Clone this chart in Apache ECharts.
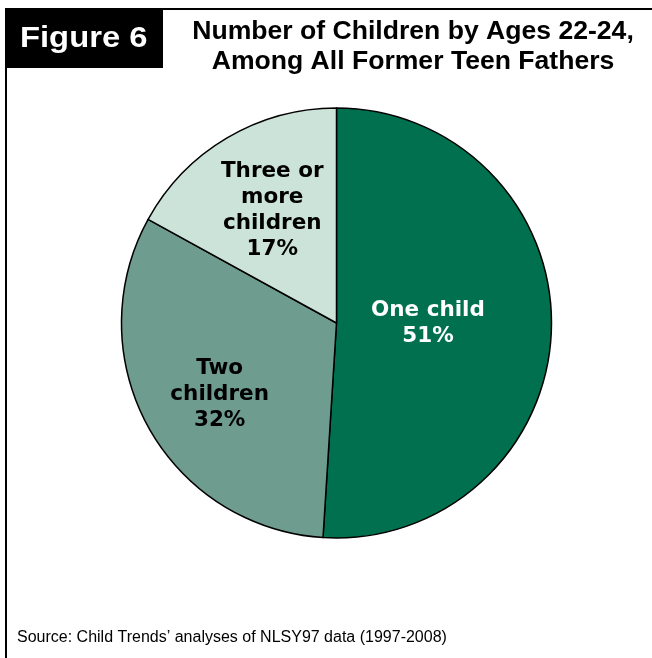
<!DOCTYPE html>
<html>
<head>
<meta charset="utf-8">
<script src="https://cdn.jsdelivr.net/npm/echarts@6/dist/echarts.min.js"></script>
<style>
html,body{margin:0;padding:0;background:#fff;}
#chart{width:652px;height:658px;}
</style>
</head>
<body>
<div id="chart"></div>
<script>
const categories = ["One child", "Two\nchildren", "Three or\nmore\nchildren"];
const values = [51, 32, 17];
const titleLines = ["Number of Children by Ages 22-24,", "Among All Former Teen Fathers"];
const figureLabel = "Figure 6";
const sourceText = "Source: Child Trends\u2019 analyses of NLSY97 data (1997-2008)";
const colors = ["#00704F", "#6E9C8E", "#CCE3D9"];
const labelColors = ["#ffffff", "#000000", "#000000"];
const labelOffsets = [[-19, -3], [-20, 18], [-8, -17]];

const chart = echarts.init(document.getElementById('chart'), null, {renderer: 'canvas'});
const data = categories.map((c, i) => ({
  name: c,
  value: values[i],
  itemStyle: {color: colors[i]},
  label: {color: labelColors[i], offset: labelOffsets[i]}
}));

const titleFont = 'bold 25px "Liberation Sans", Arial, sans-serif';

chart.setOption({
  animation: false,
  backgroundColor: '#ffffff',
  graphic: [
    {type: 'rect', shape: {x: 5, y: 8, width: 158, height: 60}, style: {fill: '#000'}},
    {type: 'line', shape: {x1: 5, y1: 9, x2: 652, y2: 9}, style: {stroke: '#000', lineWidth: 2}},
    {type: 'line', shape: {x1: 6, y1: 8, x2: 6, y2: 658}, style: {stroke: '#000', lineWidth: 2}},
    {type: 'text', x: 20, y: 24, scaleX: 1.13, style: {text: figureLabel, fill: '#fff', font: 'bold 29px "Liberation Sans", Arial, sans-serif'}},
    {type: 'text', x: 413, y: 20, scaleX: 1.063, style: {text: titleLines[0], x: 0, y: 0, align: 'center', fill: '#000', font: titleFont}},
    {type: 'text', x: 413, y: 49.5, scaleX: 1.063, style: {text: titleLines[1], x: 0, y: 0, align: 'center', fill: '#000', font: titleFont}},
    {type: 'text', left: 17, top: 630, style: {text: sourceText, fill: '#000', font: '16px "Liberation Sans", Arial, sans-serif'}}
  ],
  series: [{
    type: 'pie',
    center: [336.5, 323],
    radius: [0, 215],
    startAngle: 90,
    clockwise: true,
    label: {
      show: true,
      position: 'inside',
      formatter: p => p.name + '\n' + p.value + '%',
      fontFamily: 'DejaVu Sans, Verdana, sans-serif',
      fontWeight: 'bold',
      fontSize: 21.5,
      lineHeight: 26,
      align: 'center'
    },
    labelLine: {show: false},
    itemStyle: {borderColor: '#000', borderWidth: 1.5},
    emphasis: {disabled: true},
    data: data
  }]
});
</script>
</body>
</html>
